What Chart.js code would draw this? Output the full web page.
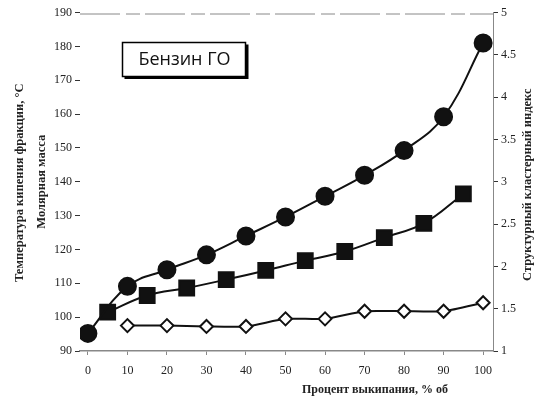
<!DOCTYPE html>
<html>
<head>
<meta charset="utf-8">
<script src="https://cdn.jsdelivr.net/npm/chart.js@4"></script>
<style>
  html, body { margin: 0; padding: 0; background: #fff; }
  #wrap { width: 549px; height: 404px; position: relative; }
</style>
</head>
<body>
<div id="wrap"><canvas id="chart"></canvas></div>
<script>
// data
const xTemp = [0, 10, 20, 30, 40, 50, 60, 70, 80, 90, 100];
const boilTemp = [95.2, 109.1, 114.0, 118.4, 124.0, 129.6, 135.7, 141.9, 149.2, 159.2, 181.0];

const xMolar = [5, 15, 25, 35, 45, 55, 65, 75, 85, 95];
const molarMass = [101.5, 106.4, 108.6, 111.1, 113.8, 116.7, 119.4, 123.5, 127.7, 136.4];

const xIndex = [10, 20, 30, 40, 50, 60, 70, 80, 90, 100];
const structIndex = [1.30, 1.30, 1.29, 1.29, 1.38, 1.38, 1.47, 1.47, 1.47, 1.57];

const xTicks = [0, 10, 20, 30, 40, 50, 60, 70, 80, 90, 100];

const tickFont = { family: "'Liberation Serif', 'DejaVu Serif', serif", size: 12 };
const ink = '#111';
const frame = '#888';

function pts(xs, ys) {
    return xs.map((x, i) => ({ x: x, y: ys[i] }));
}

// extra titles, the label box and the top frame line
const decorations = {
    id: 'decorations',
    afterDraw(chart) {
        const ctx = chart.ctx;
        const a = chart.chartArea;
        const midY = (a.top + a.bottom) / 2;

        ctx.save();
        // broken top frame line
        ctx.strokeStyle = frame;
        ctx.lineWidth = 1;
        ctx.setLineDash([40, 6, 14, 5]);
        ctx.beginPath();
        ctx.moveTo(a.left, a.top + 1.5);
        ctx.lineTo(a.right, a.top + 1.5);
        ctx.stroke();
        ctx.setLineDash([]);

        ctx.fillStyle = '#222';
        ctx.textAlign = 'center';
        ctx.textBaseline = 'middle';
        ctx.font = "bold 12.5px 'Liberation Serif', serif";

        const rotText = (text, x, y) => {
            ctx.save();
            ctx.translate(x, y);
            ctx.rotate(-Math.PI / 2);
            ctx.fillText(text, 0, 0);
            ctx.restore();
        };
        rotText('Температура кипения фракции, °С', 20, midY + 1);
        rotText('Молярная масса', 42, midY);
        rotText('Структурный кластерный индекс', 528, midY + 3);

        ctx.font = "bold 12px 'Liberation Serif', serif";
        ctx.fillText('Процент выкипания, % об', 375, 390);

        // "Бензин ГО" box
        ctx.fillStyle = '#000';
        ctx.fillRect(124.5, 44.5, 124, 34.5);
        ctx.fillStyle = '#fff';
        ctx.fillRect(122.5, 42.5, 123, 34);
        ctx.strokeStyle = '#000';
        ctx.lineWidth = 1.5;
        ctx.strokeRect(122.5, 42.5, 123, 34);
        ctx.fillStyle = '#111';
        ctx.font = "18px 'Open Sans', 'Noto Sans', sans-serif";
        ctx.fillText('Бензин ГО', 184.5, 60);
        ctx.restore();
    }
};

const chart = new Chart(document.getElementById('chart'), {
    type: 'line',
    data: {
        datasets: [
            {
                data: pts(xTemp, boilTemp),
                yAxisID: 'y',
                borderColor: ink,
                borderWidth: 2,
                tension: 0.4,
                pointStyle: 'circle',
                pointRadius: 8.5,
                pointBackgroundColor: ink,
                pointBorderColor: ink
            },
            {
                data: pts(xMolar, molarMass),
                yAxisID: 'y',
                borderColor: ink,
                borderWidth: 2,
                tension: 0.4,
                pointStyle: 'rect',
                pointRadius: 10.5,
                pointBackgroundColor: ink,
                pointBorderColor: ink
            },
            {
                data: pts(xIndex, structIndex),
                yAxisID: 'y2',
                borderColor: ink,
                borderWidth: 2,
                tension: 0.2,
                pointStyle: 'rectRot',
                pointRadius: 6.5,
                pointBorderWidth: 2,
                pointBackgroundColor: '#fff',
                pointBorderColor: ink
            }
        ]
    },
    options: {
        responsive: true,
        maintainAspectRatio: false,
        animation: false,
        layout: { padding: { top: 10, left: 0, right: 0, bottom: 0 } },
        plugins: {
            legend: { display: false },
            tooltip: { enabled: false }
        },
        scales: {
            x: {
                type: 'linear',
                min: -2,
                max: 102.5,
                afterBuildTicks: (s) => { s.ticks = xTicks.map(v => ({ value: v })); },
                afterFit: (s) => { s.height = 53; },
                grid: { drawOnChartArea: false, tickLength: 4, color: frame },
                border: { display: true, color: frame, width: 1.5 },
                ticks: { font: tickFont, color: '#222', padding: 9, maxRotation: 0 }
            },
            y: {
                position: 'left',
                min: 90,
                max: 190,
                afterFit: (s) => { s.width = 80; },
                grid: { drawOnChartArea: false, tickLength: 5, color: '#333' },
                border: { display: false },
                ticks: { stepSize: 10, font: tickFont, color: '#222', padding: 3 }
            },
            y2: {
                position: 'right',
                min: 1,
                max: 5,
                afterFit: (s) => { s.width = 56; },
                grid: { drawOnChartArea: false, tickLength: 5, color: '#333' },
                border: { display: true, color: frame, dash: [6, 4] },
                ticks: {
                    stepSize: 0.5, font: tickFont, color: '#222', padding: 3,
                    callback: (v) => String(v)
                }
            }
        }
    },
    plugins: [decorations]
});
</script>
</body>
</html>
